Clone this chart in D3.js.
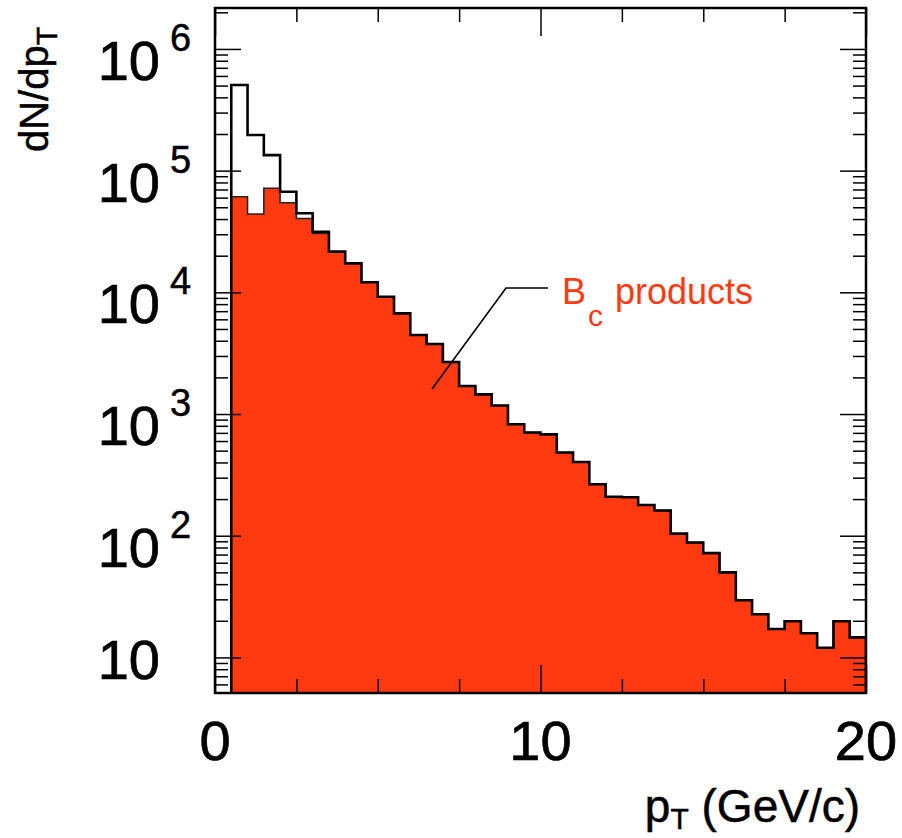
<html>
<meta charset="utf-8">
<style>
  body { margin: 0; background: #fff; }
  text { font-family: "Liberation Sans", Arial, sans-serif; }
</style>
<body>
<script src="https://cdn.jsdelivr.net/npm/d3@7"></script>
<script>

  // bin lower edges in pT (GeV/c), bins are 0.5 wide
  var binLow = [0.5, 1.0, 1.5, 2.0, 2.5, 3.0, 3.5, 4.0, 4.5, 5.0,
                5.5, 6.0, 6.5, 7.0, 7.5, 8.0, 8.5, 9.0, 9.5, 10.0,
                10.5, 11.0, 11.5, 12.0, 12.5, 13.0, 13.5, 14.0, 14.5, 15.0,
                15.5, 16.0, 16.5, 17.0, 17.5, 18.0, 18.5, 19.0, 19.5];
  var binWidth = 0.5;

  // all particles (open histogram)
  var totalCounts = [505000, 196000, 134000, 67100, 44600, 31500, 21600, 17300, 12100, 9200,
                     6720, 4460, 3760, 2680, 1700, 1450, 1175, 824, 705, 681,
                     483, 403, 265, 209, 207, 179, 161, 104, 88, 72,
                     50, 29.5, 22.6, 17.1, 19.8, 15.8, 12, 19.8, 14.6];

  // Bc decay products (red filled histogram)
  var bcCounts = [61000, 44000, 71500, 54500, 40500, 30500, 21600, 17300, 12100, 9200,
                  6720, 4460, 3760, 2680, 1700, 1450, 1175, 824, 705, 681,
                  483, 403, 265, 209, 207, 179, 161, 104, 88, 72,
                  50, 29.5, 22.6, 17.1, 19.8, 15.8, 12, 19.8, 14.6];

  var xMajor = [0, 10, 20];
  var xMinor = [2.5, 5, 7.5, 12.5, 15, 17.5];
  var yDecades = [1, 2, 3, 4, 5, 6];

  var red = "#ff3a10";

  // plot frame in page pixels
  var pLeft = 215, pRight = 866, pTop = 8, pBottom = 693;

  var x = d3.scaleLinear().domain([0, 20]).range([pLeft, pRight]);
  var y = d3.scaleLog().domain([5.1, 2.17e6]).range([pBottom, pTop]);

  var svg = d3.select("body").append("svg")
      .attr("width", 902)
      .attr("height", 838);

  svg.append("defs").append("clipPath").attr("id", "plot")
    .append("rect")
      .attr("x", pLeft).attr("y", pTop)
      .attr("width", pRight - pLeft).attr("height", pBottom - pTop);

  // turn a list of bin contents into a step outline
  function steps(counts) {
    var pts = [[binLow[0], null]];
    for (let i = 0; i < counts.length; i++) {
      pts.push([binLow[i], counts[i]]);
      pts.push([binLow[i] + binWidth, counts[i]]);
    }
    pts.push([binLow[counts.length - 1] + binWidth, null]);
    return pts;
  }

  var line = d3.line()
      .x(function(d) { return x(d[0]); })
      .y(function(d) { return d[1] == null ? pBottom : y(d[1]); });

  var g = svg.append("g").attr("clip-path", "url(#plot)");

  // red histogram
  g.append("path")
    .attr("d", line(steps(bcCounts)) + "Z")
    .attr("fill", red)
    .attr("stroke", "#222")
    .attr("stroke-width", 1.5);

  // total histogram outline
  g.append("path")
    .attr("d", line(steps(totalCounts)))
    .attr("fill", "none")
    .attr("stroke", "#000")
    .attr("stroke-width", 2.6)
    .attr("stroke-linejoin", "miter");

  // ticks, all pointing inward
  var yMinor = [];
  [0].concat(yDecades).forEach(function(e) {
    for (let k = 2; k <= 9; k++) {
      var v = k * Math.pow(10, e);
      if (v >= y.domain()[0] && v <= y.domain()[1]) yMinor.push(v);
    }
  });
  var yMajorVals = yDecades.map(function(e) { return Math.pow(10, e); });

  function tickAxis(axis, tx, ty) {
    var a = svg.append("g")
      .attr("transform", "translate(" + tx + "," + ty + ")")
      .call(axis);
    a.select(".domain").remove();
    a.selectAll("line").attr("stroke", "#000").attr("stroke-width", 1.5);
  }

  tickAxis(d3.axisBottom(x).tickValues(xMajor).tickSize(-28).tickFormat(""), 0, pBottom);
  tickAxis(d3.axisBottom(x).tickValues(xMinor).tickSize(-14).tickFormat(""), 0, pBottom);
  tickAxis(d3.axisTop(x).tickValues(xMajor).tickSize(-28).tickFormat(""), 0, pTop);
  tickAxis(d3.axisTop(x).tickValues(xMinor).tickSize(-14).tickFormat(""), 0, pTop);
  tickAxis(d3.axisLeft(y).tickValues(yMajorVals).tickSize(-26).tickFormat(""), pLeft, 0);
  tickAxis(d3.axisLeft(y).tickValues(yMinor).tickSize(-13).tickFormat(""), pLeft, 0);
  tickAxis(d3.axisRight(y).tickValues(yMajorVals).tickSize(-26).tickFormat(""), pRight, 0);
  tickAxis(d3.axisRight(y).tickValues(yMinor).tickSize(-13).tickFormat(""), pRight, 0);

  // frame
  svg.append("rect")
    .attr("x", pLeft).attr("y", pTop)
    .attr("width", pRight - pLeft).attr("height", pBottom - pTop)
    .attr("fill", "none")
    .attr("stroke", "#000")
    .attr("stroke-width", 2.5);

  // x tick labels
  svg.selectAll(".xlab")
    .data(xMajor).enter()
    .append("text")
      .attr("class", "xlab")
      .attr("x", function(d) { return x(d); })
      .attr("y", 760)
      .attr("text-anchor", "middle")
      .style("font-size", "56px")
      .style("stroke", "#000").style("stroke-width", 0.7)
      .text(function(d) { return d; });

  // y tick labels: 10, 10^2 ... 10^6
  yDecades.forEach(function(e) {
    var ty = y(Math.pow(10, e));
    svg.append("text")
      .attr("x", 160)
      .attr("y", e == 1 ? ty + 22 : ty + 31)
      .attr("text-anchor", "end")
      .style("font-size", "56px")
      .style("stroke", "#000").style("stroke-width", 0.7)
      .text("10");
    if (e > 1) {
      svg.append("text")
        .attr("x", 170)
        .attr("y", ty + 2)
        .style("font-size", "38px")
        .style("stroke", "#000").style("stroke-width", 0.5)
        .text(e);
    }
  });

  // axis titles
  var yt = svg.append("text")
    .attr("transform", "translate(48,27) rotate(-90)")
    .attr("text-anchor", "end")
    .style("font-size", "40px")
    .style("stroke", "#000").style("stroke-width", 0.5);
  yt.append("tspan").text("dN/dp");
  yt.append("tspan").attr("dy", 9).style("font-size", "30px").text("T");

  var xt = svg.append("text")
    .attr("x", 860)
    .attr("y", 822)
    .attr("text-anchor", "end")
    .style("font-size", "46px")
    .style("stroke", "#000").style("stroke-width", 0.5);
  xt.append("tspan").text("p");
  xt.append("tspan").attr("dy", 7).style("font-size", "30px").text("T");
  xt.append("tspan").attr("dy", -7).text(" (GeV/c)");

  // label with leader line
  svg.append("path")
    .attr("d", "M432,389L506,288L548,288")
    .attr("fill", "none")
    .attr("stroke", "#000")
    .attr("stroke-width", 1.6);

  svg.append("text").attr("x", 562).attr("y", 304)
    .style("font-size", "36px").attr("fill", red).text("B");
  svg.append("text").attr("x", 588).attr("y", 326)
    .style("font-size", "30px").attr("fill", red).text("c");
  svg.append("text").attr("x", 615).attr("y", 304)
    .style("font-size", "36px").attr("fill", red).text("products");

</script>
</body>
</html>
